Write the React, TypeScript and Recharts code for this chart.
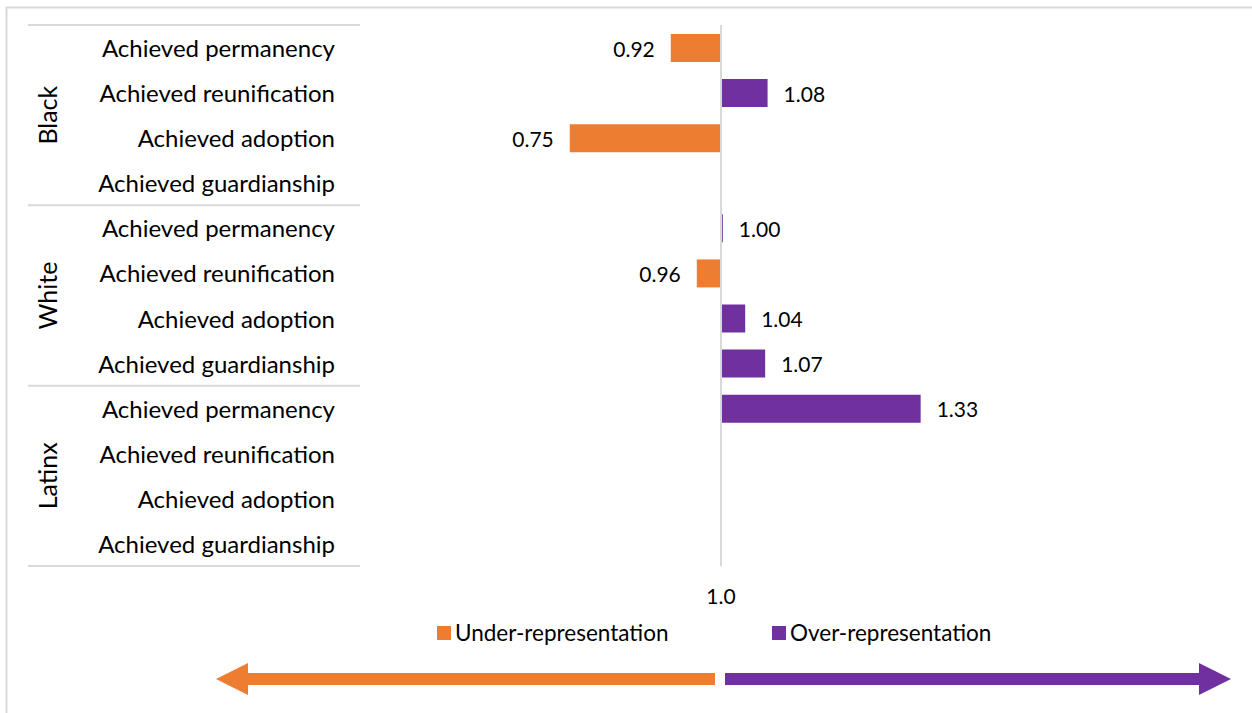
import React from 'react';
import { BarChart, Bar, XAxis, YAxis, ReferenceLine, LabelList, Legend } from 'recharts';

const groups = ['Black', 'White', 'Latinx'];
const outcomes = [
  'Achieved permanency',
  'Achieved reunification',
  'Achieved adoption',
  'Achieved guardianship',
];
// disproportionality ratio per outcome (null = no bar drawn)
const blackRatios = [0.917, 1.077, 0.75, null];
const whiteRatios = [1.003, 0.96, 1.04, 1.073];
const latinxRatios = [1.33, null, null, null];
const ratioTicks = [1];

const ORANGE = '#ED7D31';
const PURPLE = '#7030A0';
const GRID = '#D9D9D9';
const FONT = 'Lato, "Open Sans", sans-serif';

const data = [blackRatios, whiteRatios, latinxRatios].flatMap((ratios, g) =>
  ratios.map((r, i) => ({
    group: groups[g],
    label: outcomes[i],
    under: r !== null && r < 1 ? [r, 1] : null,
    over: r !== null && r >= 1 ? [1, r] : null,
    underRatio: r !== null && r < 1 ? r : null,
    overRatio: r !== null && r >= 1 ? r : null,
  }))
);

const W = 1252;
const H = 713;
const TOP = 25;
const BOTTOM = 566;
const ROW = (BOTTOM - TOP) / data.length;

const CategoryTick = (props: any) => {
  const { y, index } = props;
  const row = data[index];
  if (!row) return null;
  const first = index % outcomes.length === 0;
  const last = index === data.length - 1;
  return (
    <g>
      <text x={335} y={y} textAnchor="end" dominantBaseline="central" fontFamily={FONT} fontSize={24} fill="#000">
        {row.label}
      </text>
      {first && (
        <>
          <line x1={28} x2={360} y1={y - ROW / 2} y2={y - ROW / 2} stroke={GRID} strokeWidth={2} />
          <text
            x={47}
            y={y + ROW * 1.5}
            transform={`rotate(-90, 47, ${y + ROW * 1.5})`}
            textAnchor="middle"
            dominantBaseline="central"
            fontFamily={FONT}
            fontSize={25}
            fill="#000"
          >
            {row.group}
          </text>
        </>
      )}
      {last && <line x1={28} x2={360} y1={y + ROW / 2} y2={y + ROW / 2} stroke={GRID} strokeWidth={2} />}
    </g>
  );
};

const ValueTick = (props: any) => {
  const { x, payload } = props;
  return (
    <text x={x} y={BOTTOM + 29} textAnchor="middle" dominantBaseline="central" fontFamily={FONT} fontSize={21} fill="#000">
      {Number(payload.value).toFixed(1)}
    </text>
  );
};

const UnderLabel = (props: any) => {
  const { x, y, width, height, value } = props;
  if (value === null || value === undefined) return null;
  const left = Math.min(x, x + width);
  return (
    <text x={left - 16} y={y + height / 2} textAnchor="end" dominantBaseline="central" fontFamily={FONT} fontSize={21} fill="#000">
      {Number(value).toFixed(2)}
    </text>
  );
};

const OverLabel = (props: any) => {
  const { x, y, width, height, value } = props;
  if (value === null || value === undefined) return null;
  const right = Math.max(x, x + width);
  return (
    <text x={right + 16} y={y + height / 2} textAnchor="start" dominantBaseline="central" fontFamily={FONT} fontSize={21} fill="#000">
      {Number(value).toFixed(2)}
    </text>
  );
};

const LegendContent = () => (
  <div style={{ position: 'relative', width: W, height: 28, fontFamily: FONT, fontSize: 22.5 }}>
    <span style={{ position: 'absolute', left: 437, top: 7, width: 14, height: 14, background: ORANGE }} />
    <span style={{ position: 'absolute', left: 455, top: 0, lineHeight: '28px' }}>Under-representation</span>
    <span style={{ position: 'absolute', left: 772, top: 7, width: 14, height: 14, background: PURPLE }} />
    <span style={{ position: 'absolute', left: 790, top: 0, lineHeight: '28px' }}>Over-representation</span>
  </div>
);

const App = () => {
  return (
    <div style={{ position: 'absolute', left: 0, top: 0, width: W, height: H, background: '#fff', overflow: 'hidden' }}>
      <BarChart
        width={W}
        height={H}
        data={data}
        layout="vertical"
        barGap={-28}
        margin={{ top: TOP, right: 168, bottom: H - BOTTOM - 40, left: 0 }}
      >
        <XAxis
          type="number"
          domain={[0.4, 1.6]}
          ticks={ratioTicks}
          axisLine={false}
          tickLine={false}
          height={40}
          tick={<ValueTick />}
        />
        <YAxis
          type="category"
          dataKey="label"
          width={358}
          axisLine={false}
          tickLine={false}
          interval={0}
          tick={(p: any) => <CategoryTick {...p} />}
        />
        <ReferenceLine x={1} stroke={GRID} strokeWidth={2} />
        <Bar dataKey="under" name="Under-representation" fill={ORANGE} barSize={28} isAnimationActive={false}>
          <LabelList dataKey="underRatio" content={<UnderLabel />} />
        </Bar>
        <Bar dataKey="over" name="Over-representation" fill={PURPLE} barSize={28} isAnimationActive={false}>
          <LabelList dataKey="overRatio" content={<OverLabel />} />
        </Bar>
        <Legend
          verticalAlign="middle"
          align="center"
          wrapperStyle={{ top: 619, left: 0, width: W }}
          content={<LegendContent />}
        />
      </BarChart>
      <svg width={W} height={H} style={{ position: 'absolute', left: 0, top: 0, pointerEvents: 'none' }}>
        <line x1={6} x2={W} y1={7.5} y2={7.5} stroke={GRID} strokeWidth={2} />
        <line x1={6.5} x2={6.5} y1={7} y2={H} stroke={GRID} strokeWidth={2} />
        <polygon points="216,679 248,663 248,673 715,673 715,685 248,685 248,695" fill={ORANGE} />
        <polygon points="725,673 1199,673 1199,663 1231,679 1199,695 1199,685 725,685" fill={PURPLE} />
      </svg>
    </div>
  );
};

export default App;
